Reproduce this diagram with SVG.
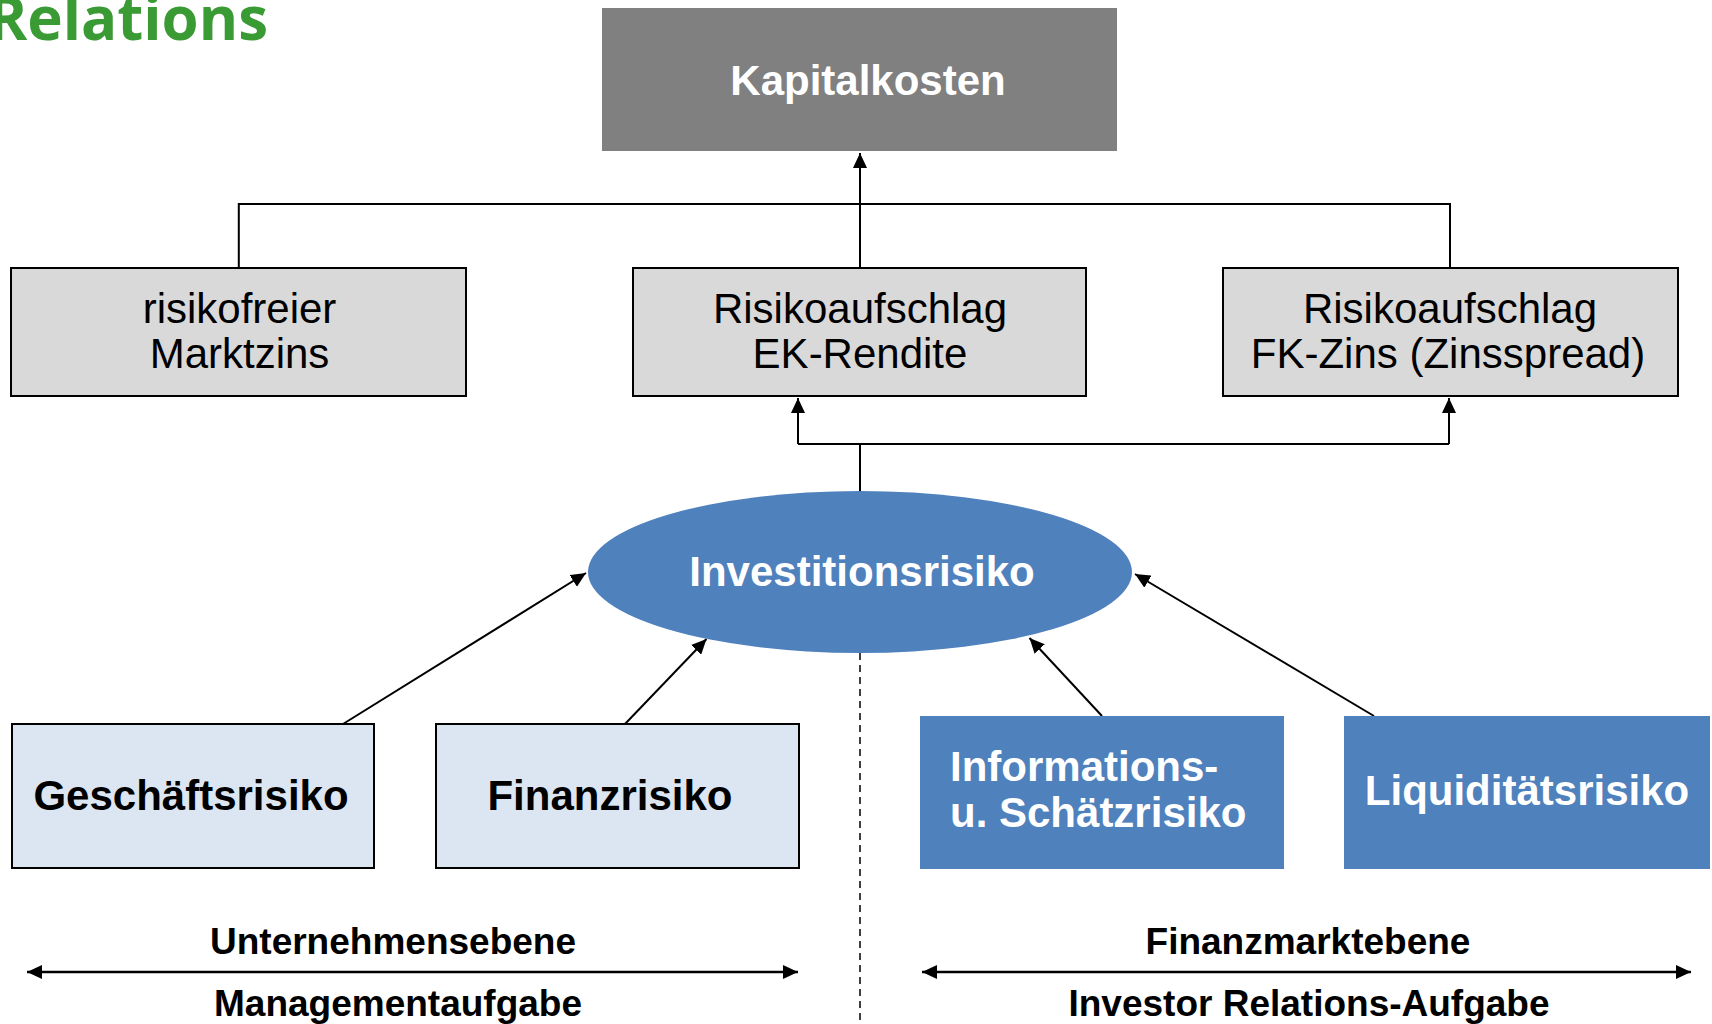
<svg xmlns="http://www.w3.org/2000/svg" width="1712" height="1024" viewBox="0 0 1712 1024">
<style>
.box{stroke:#000;stroke-width:2}
.grey{fill:#d9d9d9}
.light{fill:#dce6f2}
.blue{fill:#4f81bd}
.t{font-family:"Liberation Sans",Arial,sans-serif;font-size:42px;fill:#000}
.b{font-weight:bold}
.c{text-anchor:middle}
.w{fill:#fff}
.lbl{font-family:"Liberation Sans",Arial,sans-serif;font-size:37px;font-weight:bold;text-anchor:middle;fill:#000}
.conn{fill:none;stroke:#000;stroke-width:2}
.arr{fill:none;stroke:#000;stroke-width:2;marker-end:url(#ah)}
.dbl{fill:none;stroke:#000;stroke-width:2.5;marker-start:url(#ah);marker-end:url(#ah)}
</style>
<defs>
<marker id="ah" markerUnits="userSpaceOnUse" markerWidth="15" markerHeight="14" refX="15" refY="7" orient="auto-start-reverse" viewBox="0 0 15 14"><path d="M0,0 L15,7 L0,14 z" fill="#000"/></marker>
</defs>
<rect width="1712" height="1024" fill="#fff"/>
<text x="268" y="40" text-anchor="end" font-family="'Open Sans',sans-serif" font-weight="bold" font-size="60" fill="#3a9b35">Relations</text>

<g id="connectors">
<path class="conn" d="M238.8,268 V204 H1450 V268"/>
<path class="arr" d="M860,268 V153"/>
<path class="conn" d="M860,492 V444"/>
<path class="conn" d="M798,444 H1449"/>
<path class="arr" d="M798,444 V398"/>
<path class="arr" d="M1449,444 V398"/>
<path d="M860,653 V1024" fill="none" stroke="#000" stroke-width="1.5" stroke-dasharray="7,5"/>
<path class="arr" d="M343,724 L586,573"/>
<path class="arr" d="M625,724 L706.5,639"/>
<path class="arr" d="M1102,716 L1029.5,638"/>
<path class="arr" d="M1374,716 L1135,574"/>
<path class="dbl" d="M27,972 H798"/>
<path class="dbl" d="M922,972 H1691"/>
</g>

<g id="kapitalkosten">
<rect x="602" y="8" width="515" height="143" fill="#808080"/>
<text class="t b c w" x="868" y="95">Kapitalkosten</text>
</g>
<g id="risikofreier">
<rect class="box grey" x="11" y="268" width="455" height="128"/>
<text class="t c" x="239.5" y="323">risikofreier</text>
<text class="t c" x="239.5" y="368">Marktzins</text>
</g>
<g id="ek">
<rect class="box grey" x="633" y="268" width="453" height="128"/>
<text class="t c" x="860" y="323">Risikoaufschlag</text>
<text class="t c" x="860" y="368">EK-Rendite</text>
</g>
<g id="fk">
<rect class="box grey" x="1223" y="268" width="455" height="128"/>
<text class="t c" x="1450" y="323">Risikoaufschlag</text>
<text class="t c" x="1448" y="368">FK-Zins (Zinsspread)</text>
</g>
<g id="investitionsrisiko">
<ellipse cx="860" cy="572" rx="272" ry="81" fill="#4f81bd"/>
<text class="t b c w" x="862" y="586">Investitionsrisiko</text>
</g>
<g id="geschaeftsrisiko">
<rect class="box light" x="12" y="724" width="362" height="144"/>
<text class="t b c" x="191" y="810">Geschäftsrisiko</text>
</g>
<g id="finanzrisiko">
<rect class="box light" x="436" y="724" width="363" height="144"/>
<text class="t b c" x="610" y="810">Finanzrisiko</text>
</g>
<g id="informationsrisiko">
<rect class="blue" x="920" y="716" width="364" height="153"/>
<text class="t b w" x="950" y="781">Informations-</text>
<text class="t b w" x="950" y="827">u. Schätzrisiko</text>
</g>
<g id="liquiditaetsrisiko">
<rect class="blue" x="1344" y="716" width="366" height="153"/>
<text class="t b c w" x="1527" y="805">Liquiditätsrisiko</text>
</g>
<g id="labels">
<text class="lbl" x="393" y="954">Unternehmensebene</text>
<text class="lbl" x="398" y="1016">Managementaufgabe</text>
<text class="lbl" x="1308" y="954">Finanzmarktebene</text>
<text class="lbl" x="1309" y="1016">Investor Relations-Aufgabe</text>
</g>
</svg>
